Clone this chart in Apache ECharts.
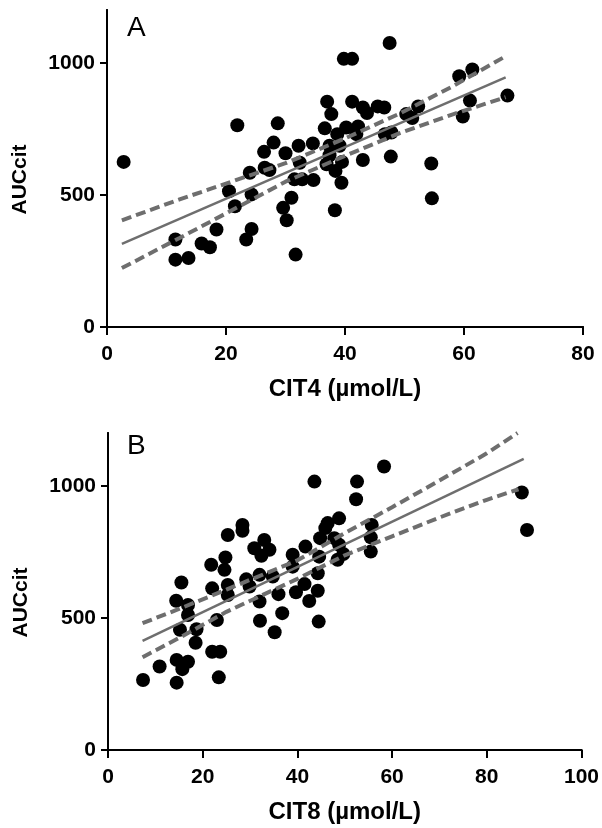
<!DOCTYPE html>
<html>
<head>
<meta charset="utf-8">
<script src="https://cdn.jsdelivr.net/npm/echarts@6/dist/echarts.min.js"></script>
<style>html,body{margin:0;padding:0;background:#fff}#c{width:602px;height:828px}</style>
</head>
<body>
<div id="c"></div>
<script>
// Panel A: CIT4 vs AUCcit
const pointsA = [[2.8,625],[11.5,331],[11.5,255],[13.7,261],[15.9,316],[17.3,302],[18.4,369],[20.5,514],[21.5,457],[21.9,764],[23.4,331],[24.3,371],[24,584],[24.3,502],[26.4,663],[26.5,603],[27.3,594],[28,698],[28.7,771],[29.6,451],[30.2,404],[30,658],[31,489],[31.5,559],[31.7,274],[32.2,686],[32.4,622],[32.8,559],[34.6,695],[34.7,556],[36.6,752],[36.9,616],[37,853],[37.4,650],[37.4,686],[37.7,806],[38.3,442],[38.4,591],[38.7,730],[39.1,686],[39.4,546],[39.5,625],[39.8,1015],[40.2,755],[41.2,1015],[41.2,853],[41.9,730],[42.2,759],[43,831],[43,632],[43.7,810],[45.5,835],[46.6,831],[46.7,730],[47.5,1075],[47.7,645],[47.8,736],[50.3,806],[51.3,791],[52.3,835],[54.5,619],[54.6,487],[59.2,949],[59.8,797],[61,857],[61.4,975],[67.3,876]];
const fitA = [[2.5,315],[67,945]];
const upperA = [[2.5,404],[12.2,483],[20,543],[30,620],[40,714],[49.2,808],[58,910],[67,1025]];
const lowerA = [[2.5,223],[12.2,337],[20,430],[30,550],[40,648],[49.2,734],[58,804],[67,870]];

// Panel B: CIT8 vs AUCcit
const pointsB = [[7.4,265],[10.9,316],[14.4,565],[14.5,341],[14.5,255],[15.2,455],[15.5,634],[15.7,306],[16.9,549],[16.9,511],[16.9,334],[18.5,406],[18.7,457],[21.8,701],[22,612],[22,372],[23,492],[23.4,275],[23.7,372],[24.6,682],[24.8,729],[25.3,814],[25.3,625],[25.3,587],[28.4,852],[28.4,830],[29.2,646],[29.9,619],[30.9,764],[32,663],[32,562],[32.1,489],[32.4,735],[33,795],[34.1,758],[34.8,657],[35.2,446],[36,590],[36.8,518],[39,739],[39,694],[39.7,597],[41.5,628],[41.7,770],[42.5,564],[43.6,1016],[44.3,669],[44.3,603],[44.5,486],[44.6,732],[44.8,802],[45.9,840],[46.4,859],[47.8,802],[48.5,720],[48.8,877],[48.8,777],[49.7,742],[52.4,949],[52.6,1016],[55.7,852],[55.5,805],[55.5,751],[58.3,1073],[87.4,975],[88.5,833]];
const fitB = [[7.3,413],[87.8,1102]];
const upperB = [[7.3,480],[15,534],[25,607],[40,718],[50,821],[60,919],[70,1020],[80,1123],[86.5,1200]];
const lowerB = [[7.3,351],[15,424],[25,523],[40,648],[50,737],[60,809],[70,880],[80,947],[86.7,987]];

const yTicks = [0,500,1000];

const FONT = "'Liberation Sans', Arial, Helvetica, sans-serif";
const lineGray = '#6e6e6e';

function xAxis(idx, name, max) {
  return {
    type: 'value', gridIndex: idx, min: 0, max: max, interval: 20, position: 'bottom',
    name: name, nameLocation: 'middle', nameGap: 50,
    nameTextStyle: {fontFamily: FONT, fontWeight: 'bold', fontSize: 24, color: '#000'},
    axisLine: {show: true, lineStyle: {color: '#000', width: 2}},
    axisTick: {show: true, length: 8, lineStyle: {color: '#000', width: 2}},
    axisLabel: {show: true, fontFamily: FONT, fontWeight: 'bold', fontSize: 21, color: '#000', margin: 17, formatter: v => String(v)},
    splitLine: {show: false}
  };
}
// tick-only companion axes on the same grids
function xTickAxis(idx, max) {
  return {
    type: 'value', gridIndex: idx, min: 0, max: max, interval: 20, position: 'bottom', offset: 0,
    axisLine: {show: true, lineStyle: {color: '#000', width: 2}},
    axisTick: {show: true, length: 8, lineStyle: {color: '#000', width: 2}},
    axisLabel: {show: false}, splitLine: {show: false}
  };
}
function yAxis(idx) {
  return {
    type: 'value', gridIndex: idx, min: 0, max: 1200, interval: 500, position: 'left',
    name: 'AUCcit', nameLocation: 'middle', nameGap: 76, nameRotate: 90,
    nameTextStyle: {fontFamily: FONT, fontWeight: 'bold', fontSize: 21, color: '#000', padding: [0, 22, 0, 0]},
    axisLine: {show: true, lineStyle: {color: '#000', width: 2}},
    axisTick: {show: true, length: 7, lineStyle: {color: '#000', width: 2}, customValues: yTicks},
    axisLabel: {show: true, fontFamily: FONT, fontWeight: 'bold', fontSize: 21, color: '#000', margin: 12,
      customValues: yTicks, formatter: v => String(v)},
    splitLine: {show: false}
  };
}
function yTickAxis(idx) {
  return {
    type: 'value', gridIndex: idx, min: 0, max: 1200, interval: 500, position: 'left', offset: 0,
    axisLine: {show: true, lineStyle: {color: '#000', width: 2}},
    axisTick: {show: true, length: 7, lineStyle: {color: '#000', width: 2}, customValues: yTicks},
    axisLabel: {show: false}, splitLine: {show: false}
  };
}
function scatter(idx, data) {
  return {type: 'scatter', xAxisIndex: idx, yAxisIndex: idx, data: data, symbol: 'circle', symbolSize: 14,
    itemStyle: {color: '#000', opacity: 1}, emphasis: {disabled: true}};
}
function line(idx, data, dashed) {
  return {type: 'line', xAxisIndex: idx, yAxisIndex: idx, data: data, showSymbol: false, symbol: 'none',
    lineStyle: dashed ? {color: lineGray, width: 4, type: [10, 5]} : {color: lineGray, width: 2.5},
    emphasis: {disabled: true}, silent: true};
}

const chart = echarts.init(document.getElementById('c'));
chart.setOption({
  animation: false,
  grid: [
    {left: 107, top: 10, width: 476, height: 317},
    {left: 108, top: 433, width: 475, height: 317}
  ],
  xAxis: [xAxis(0, 'CIT4 (µmol/L)', 80), xAxis(1, 'CIT8 (µmol/L)', 100), xTickAxis(0, 80), xTickAxis(1, 100)],
  yAxis: [yAxis(0), yAxis(1), yTickAxis(0), yTickAxis(1)],
  graphic: [
    {type: 'text', left: 127, top: 14, style: {text: 'A', font: "28px " + FONT, fill: '#000'}},
    {type: 'text', left: 127, top: 432, style: {text: 'B', font: "28px " + FONT, fill: '#000'}}
  ],
  series: [
    scatter(0, pointsA), line(0, fitA, false), line(0, upperA, true), line(0, lowerA, true),
    scatter(1, pointsB), line(1, fitB, false), line(1, upperB, true), line(1, lowerB, true)
  ]
});
</script>
</body>
</html>
